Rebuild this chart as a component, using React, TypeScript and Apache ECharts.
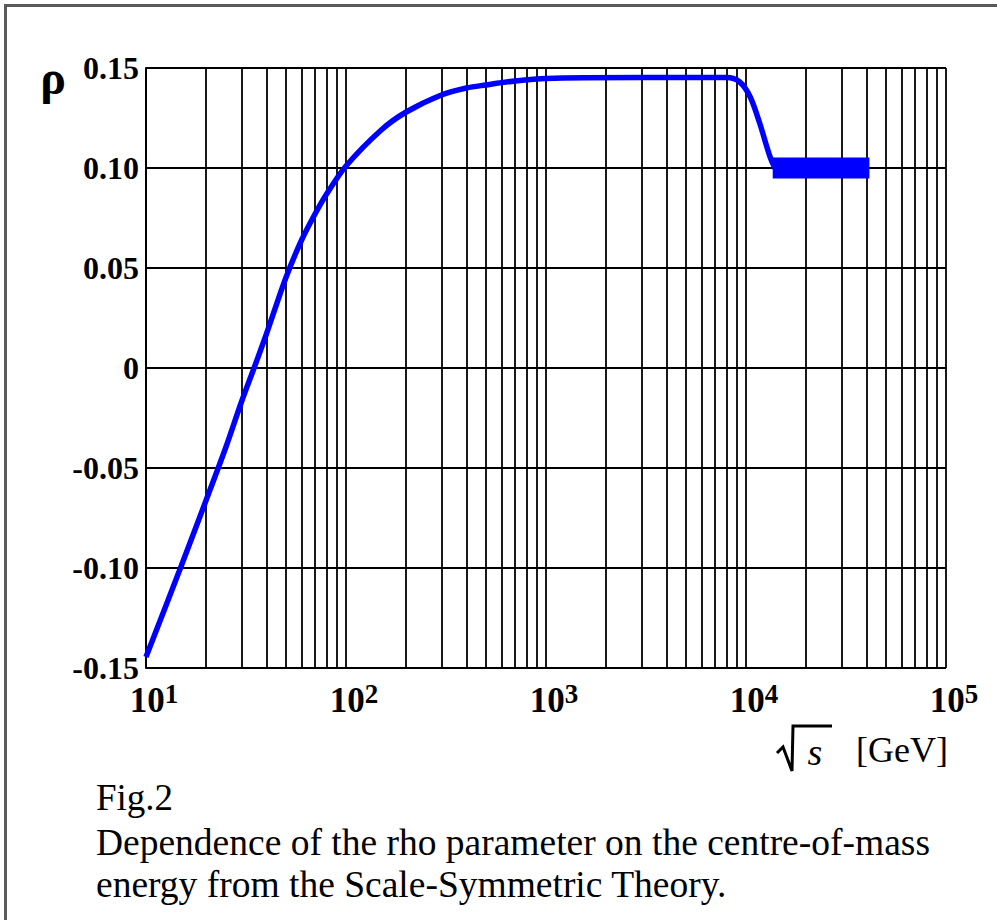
import React, { useEffect, useRef } from "react";
import * as echarts from "echarts";

// sqrt(s) in GeV and rho values
const energy = [10, 15, 20, 25, 30, 35, 40, 50, 60, 70, 80, 100, 150, 200, 300, 400, 500, 700, 1000, 3000, 8000, 9300, 10500, 11700, 13200, 14200];
const rho = [-0.1445, -0.099, -0.066, -0.040, -0.017, 0.001, 0.017, 0.045, 0.064, 0.077, 0.087, 0.101, 0.119, 0.128, 0.1365, 0.140, 0.1415, 0.1435, 0.1448, 0.1452, 0.1452, 0.143, 0.1355, 0.1225, 0.1055, 0.0985];

// oscillating band at high energy (range of the rapid oscillation)
const bandEnergy = [13600, 41400];
const bandRho = [0.0948, 0.1053];

// minor log gridlines
const minorGrid = [20, 30, 40, 50, 60, 70, 80, 90, 200, 300, 400, 500, 600, 700, 800, 900, 2000, 3000, 4000, 5000, 6000, 7000, 8000, 9000, 20000, 30000, 40000, 50000, 60000, 70000, 80000, 90000];

const yTicks = [-0.15, -0.1, -0.05, 0, 0.05, 0.1, 0.15];
const yTickLabels = ["-0.15", "-0.10", "-0.05", "0", "0.05", "0.10", "0.15"];

const captionLines = [
  "Fig.2",
  "Dependence of the rho parameter on the centre-of-mass",
  "energy from the Scale-Symmetric Theory.",
];

const SERIF = '"Liberation Serif", "Times New Roman", serif';

export default function App() {
  const ref = useRef<HTMLDivElement>(null);
  useEffect(() => {
    if (!ref.current) return;
    const chart = echarts.init(ref.current, undefined, { renderer: "svg" });
    const gridColor = "#000";
    chart.setOption({
      animation: false,
      backgroundColor: "#ffffff",
      grid: { left: 146, top: 68, right: 51, bottom: 252, containLabel: false },
      xAxis: {
        type: "log",
        logBase: 10,
        min: 10,
        max: 100000,
        axisLine: { show: true, lineStyle: { color: gridColor, width: 2 } },
        axisTick: { show: false },
        splitLine: { show: true, lineStyle: { color: gridColor, width: 1.8 } },
        minorTick: { show: false },
        axisLabel: {
          margin: 12,
          fontFamily: SERIF,
          fontWeight: "bold",
          color: "#000",
          fontSize: 35,
          formatter: (v: number) => {
            const e = Math.round(Math.log10(v));
            return `{base|10}{sup|${e}}`;
          },
          rich: {
            base: { fontSize: 35, lineHeight: 40, padding: [0, 0, 0, 16] },
            sup: { fontSize: 27, lineHeight: 27, verticalAlign: "top" },
          },
        },
      },
      yAxis: {
        type: "value",
        min: -0.15,
        max: 0.15,
        interval: 0.05,
        axisLine: { show: true, lineStyle: { color: gridColor, width: 2 } },
        axisTick: { show: false },
        splitLine: { show: true, lineStyle: { color: gridColor, width: 1.8 } },
        axisLabel: {
          margin: 7,
          fontFamily: SERIF,
          fontWeight: "bold",
          fontSize: 32,
          color: "#000",
          formatter: (v: number) => {
            const i = yTicks.findIndex((t) => Math.abs(t - v) < 1e-9);
            return i >= 0 ? yTickLabels[i] : "";
          },
        },
      },
      series: [
        {
          type: "line",
          data: energy.map((e, i) => [e, rho[i]]),
          smooth: 0.3,
          showSymbol: false,
          symbol: "none",
          z: 10,
          lineStyle: { color: "#0000ff", width: 5.5 },
          markLine: {
            silent: true,
            z: 1,
            symbol: ["none", "none"],
            label: { show: false },
            lineStyle: { color: gridColor, width: 1.8, type: "solid" },
            data: minorGrid.map((x) => ({ xAxis: x })),
          },
          markArea: {
            silent: true,
            z: 9,
            itemStyle: { color: "#0000ff", opacity: 1 },
            data: [[{ xAxis: bandEnergy[0], yAxis: bandRho[1] }, { xAxis: bandEnergy[1], yAxis: bandRho[0] }]],
          },
        },
      ],
      graphic: [
        { type: "line", shape: { x1: 4, y1: 5.5, x2: 997, y2: 5.5 }, style: { stroke: "#5a5a5a", lineWidth: 3 } },
        { type: "line", shape: { x1: 5.5, y1: 4, x2: 5.5, y2: 920 }, style: { stroke: "#5a5a5a", lineWidth: 3 } },
        { type: "text", style: { text: "\u03c1", x: 53, y: 77, align: "center", verticalAlign: "middle", font: `bold 48px ${SERIF}`, fill: "#000" } },
        { type: "polyline", shape: { points: [[777, 753], [783, 747], [792, 771], [793, 726], [832, 726]] }, style: { stroke: "#000", lineWidth: 3, fill: null } },
        { type: "text", style: { text: "s", x: 815, y: 752, align: "center", verticalAlign: "middle", font: `italic 38px ${SERIF}`, fill: "#000" } },
        { type: "text", style: { text: "[GeV]", x: 856, y: 750, align: "left", verticalAlign: "middle", font: `36px ${SERIF}`, fill: "#000" } },
        { type: "text", style: { text: captionLines[0], x: 96, y: 797, align: "left", verticalAlign: "middle", font: `37px ${SERIF}`, fill: "#000" } },
        { type: "text", style: { text: captionLines[1], x: 96, y: 842, align: "left", verticalAlign: "middle", font: `37.5px ${SERIF}`, fill: "#000" } },
        { type: "text", style: { text: captionLines[2], x: 96, y: 884, align: "left", verticalAlign: "middle", font: `37.5px ${SERIF}`, fill: "#000" } },
      ],
    });
    return () => chart.dispose();
  }, []);
  return <div ref={ref} style={{ position: "fixed", left: 0, top: 0, width: 997, height: 920 }} />;
}
